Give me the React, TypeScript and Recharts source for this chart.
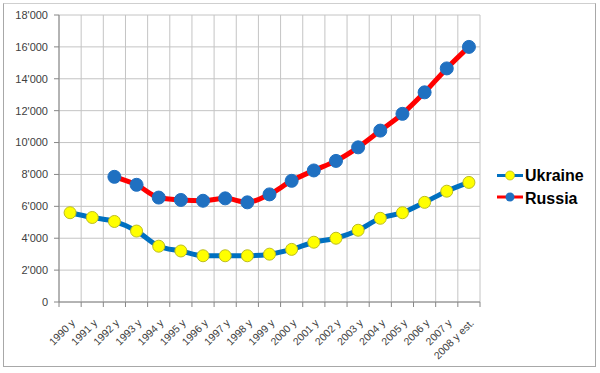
import React from 'react';
import { LineChart, Line, XAxis, YAxis, CartesianGrid, Legend } from 'recharts';

const years = ['1990 y','1991 y','1992 y','1993 y','1994 y','1995 y','1996 y','1997 y','1998 y','1999 y','2000 y','2001 y','2002 y','2003 y','2004 y','2005 y','2006 y','2007 y','2008 y est.'];
const ukraine = [5600, 5300, 5050, 4450, 3500, 3200, 2900, 2900, 2900, 3000, 3300, 3750, 4000, 4500, 5250, 5600, 6250, 6950, 7500];
const russia = [null, null, 7850, 7350, 6550, 6400, 6350, 6500, 6250, 6750, 7600, 8250, 8850, 9700, 10750, 11800, 13150, 14650, 16000];
const yTicks = [0, 2000, 4000, 6000, 8000, 10000, 12000, 14000, 16000, 18000];

const data = years.map((y, i) => ({ year: y, Ukraine: ukraine[i], Russia: russia[i] }));

const W = 600;
const H = 373;
const MARGIN = { top: 15, right: 120, bottom: 6, left: 3 };
const Y_W = 56;
const PLOT_W = W - MARGIN.left - MARGIN.right - Y_W;
const STEP = PLOT_W / years.length;
const FONT = '"Liberation Sans", Arial, sans-serif';
const GRID = '#c4c4c4';
const AXIS = '#868686';

const fmt = (v: number) => (v === 0 ? '0' : `${v / 1000}'000`);

const XTick = (props: any) => {
  const { x, y, payload, index } = props;
  const axisY = y - 7;
  return (
    <g>
      <line x1={x - STEP / 2} x2={x - STEP / 2} y1={axisY} y2={axisY + 5} stroke={AXIS} />
      {index === years.length - 1 && (
        <line x1={x + STEP / 2} x2={x + STEP / 2} y1={axisY} y2={axisY + 5} stroke={AXIS} />
      )}
      <text
        x={0}
        y={0}
        transform={`translate(${x + 3},${axisY + 19}) rotate(-45)`}
        textAnchor="end"
        dy="0.35em"
        fontSize={10.5}
        fontFamily={FONT}
        fill="#404040"
      >
        {payload.value}
      </text>
    </g>
  );
};

const LegendContent = () => (
  <svg width={100} height={45}>
    <line x1={0} x2={26} y1={10.5} y2={10.5} stroke="#0070C0" strokeWidth={3} />
    <circle cx={13} cy={10.5} r={4.5} fill="#FFFF00" stroke="#BDBD20" strokeWidth={0.8} />
    <text x={28} y={15.5} fontSize={16} fontWeight="bold" fontFamily={FONT} fill="#000">Ukraine</text>
    <line x1={0} x2={26} y1={32} y2={32} stroke="#FF0000" strokeWidth={3} />
    <circle cx={13} cy={32} r={4.5} fill="#1F70C1" />
    <text x={28} y={38.7} fontSize={16} fontWeight="bold" fontFamily={FONT} fill="#000">Russia</text>
  </svg>
);

export default function App() {
  return (
    <div style={{ position: 'absolute', left: 0, top: 0, width: W, height: H, background: '#fff' }}>
      <div
        style={{
          position: 'absolute',
          left: 3,
          top: 3,
          width: 593,
          height: 364,
          border: '1px solid #a8a8a8',
          borderTopColor: '#cfcfcf',
          boxSizing: 'border-box',
        }}
      />
      <LineChart width={W} height={H} data={data} margin={MARGIN} style={{ position: 'absolute', left: 0, top: 0 }}>
        <CartesianGrid
          stroke={GRID}
          verticalCoordinatesGenerator={({ offset }: any) =>
            Array.from({ length: years.length + 1 }, (_, i) => offset.left + (i * offset.width) / years.length)
          }
        />
        <XAxis
          dataKey="year"
          interval={0}
          height={65}
          padding={{ left: STEP / 2, right: STEP / 2 }}
          tick={<XTick />}
          tickLine={false}
          tickSize={5}
          tickMargin={2}
          axisLine={{ stroke: AXIS }}
        />
        <YAxis
          width={Y_W}
          domain={[0, 18000]}
          ticks={yTicks}
          tickFormatter={fmt}
          tickSize={5}
          tickMargin={6}
          tickLine={{ stroke: AXIS }}
          axisLine={{ stroke: AXIS }}
          tick={{ fontSize: 11, fontFamily: FONT, fill: '#404040' }}
        />
        <Legend
          content={<LegendContent />}
          layout="vertical"
          verticalAlign="middle"
          align="center"
          wrapperStyle={{ position: 'absolute', left: 497, top: 165, width: 100, height: 45 }}
        />
        <Line
          dataKey="Ukraine"
          type="monotone"
          stroke="#0070C0"
          strokeWidth={5}
          dot={{ r: 6, fill: '#FFFF00', stroke: '#BDBD20', strokeWidth: 1 }}
          isAnimationActive={false}
        />
        <Line
          dataKey="Russia"
          type="monotone"
          stroke="#FF0000"
          strokeWidth={5}
          dot={{ r: 6.5, fill: '#1F70C1', stroke: '#1F70C1', strokeWidth: 1 }}
          isAnimationActive={false}
        />
      </LineChart>
    </div>
  );
}
